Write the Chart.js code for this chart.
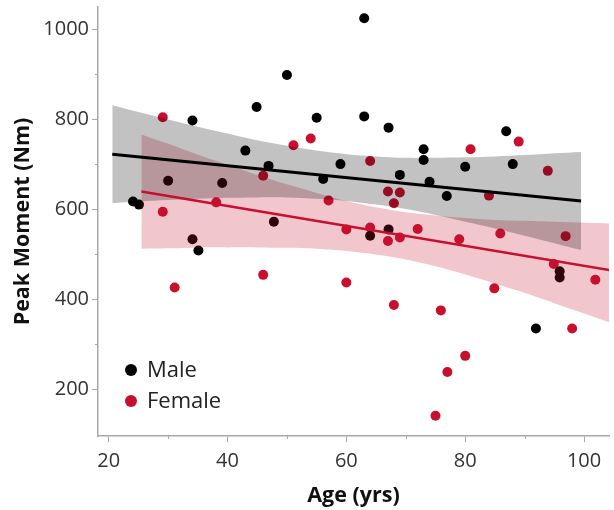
<!DOCTYPE html>
<html>
<head>
<meta charset="utf-8">
<title>Peak Moment vs Age</title>
<script src="https://cdn.jsdelivr.net/npm/chart.js@4.4.1/dist/chart.umd.min.js"></script>
<style>
  body { margin: 0; background: #fff; }
  canvas { display: block; }
</style>
</head>
<body>
<canvas id="myChart" width="614" height="510"></canvas>
<script>
// Measurements per subject
const maleAge = [24.1, 25.1, 30.0, 34.1, 34.1, 35.1, 39.1, 43.0, 44.9, 46.9, 47.8, 50.0, 55.0, 56.1, 59.0, 63.0, 63.0, 64.0, 67.1, 67.1, 69.0, 73.0, 73.0, 74.0, 76.9, 80.0, 86.9, 88.0, 91.9, 95.9, 95.9];
const maleMoment = [617, 610, 663, 797, 533, 508, 658, 730, 827, 696, 572, 898, 803, 667, 700, 1024, 806, 541, 781, 555, 676, 733, 709, 661, 629, 694, 773, 700, 335, 462, 448];

const femaleAge = [29.1, 29.1, 31.1, 38.1, 46.0, 46.0, 51.1, 54.0, 57.0, 60.0, 60.0, 64.0, 64.0, 67.0, 67.0, 68.0, 68.0, 69.0, 69.0, 72.0, 75.0, 75.9, 77.0, 79.0, 80.0, 80.9, 84.0, 84.9, 85.9, 89.0, 93.9, 94.9, 96.9, 98.0, 101.9];
const femaleMoment = [804, 594, 426, 615, 674, 454, 742, 757, 619, 555, 437, 707, 559, 639, 529, 613, 387, 637, 537, 556, 141, 375, 238, 533, 274, 733, 630, 424, 546, 750, 685, 478, 540, 335, 443];

// Regression lines
const maleFitAge = [20.6, 99.5];
const maleFit = [722, 618];
const femaleFitAge = [25.5, 105];
const femaleFit = [639, 463];

// Confidence bands
const maleBandAge = [20.6, 25, 30, 35, 40, 45, 50, 55, 60, 65, 70, 75, 80, 85, 90, 95, 99.5];
const maleUpper = [831, 816, 799, 783, 768, 753, 741, 730, 722, 717, 714, 714, 715, 717, 720, 724, 727];
const maleLower = [613, 617, 620, 623, 625, 626, 626, 623, 618, 610, 600, 587, 572, 557, 541, 524, 509];

const femaleBandAge = [25.5, 30, 35, 40, 45, 50, 55, 60, 65, 70, 75, 80, 85, 90, 95, 100, 105];
const femaleUpper = [766, 745, 721, 699, 676, 655, 636, 618, 604, 593, 586, 580, 576, 574, 572, 570, 568];
const femaleLower = [512, 513, 515, 515, 515, 514, 512, 507, 499, 488, 473, 455, 435, 414, 391, 368, 345];

// Axis ticks
const xMajor = [20, 40, 60, 80, 100];
const xMinor = [30, 50, 70, 90];
const yMajor = [200, 400, 600, 800, 1000];
const yMinor = [300, 500, 700, 900];

const RED = '#c8102e';
const AXIS = '#a8a8a8';
const FONT = 'Open Sans';

function pts(xs, ys) {
    return xs.map((x, i) => ({ x: x, y: ys[i] }));
}

function band(xs, ys, fill, color, order) {
    return {
        data: pts(xs, ys),
        showLine: true,
        borderWidth: 0,
        pointRadius: 0,
        tension: 0.3,
        fill: fill,
        backgroundColor: color,
        order: order
    };
}

// short minor ticks between the labelled ones
const minorTicks = {
    id: 'minorTicks',
    afterDraw(chart) {
        const { ctx, scales: { x, y } } = chart;
        ctx.save();
        ctx.strokeStyle = AXIS;
        ctx.lineWidth = 1;
        ctx.beginPath();
        xMinor.forEach((v) => {
            const px = Math.round(x.getPixelForValue(v)) + 0.5;
            ctx.moveTo(px, x.top);
            ctx.lineTo(px, x.top + 3);
        });
        yMinor.forEach((v) => {
            const py = Math.round(y.getPixelForValue(v)) + 0.5;
            ctx.moveTo(y.right, py);
            ctx.lineTo(y.right - 3, py);
        });
        ctx.stroke();
        ctx.restore();
    }
};

// legend drawn inside the plot, bottom left
const insideLegend = {
    id: 'insideLegend',
    afterDraw(chart) {
        const ctx = chart.ctx;
        const area = chart.chartArea;
        const items = chart.data.datasets.filter((d) => d.label);
        ctx.save();
        ctx.font = '22px "' + FONT + '"';
        ctx.textBaseline = 'middle';
        ctx.textAlign = 'left';
        items.forEach((d, i) => {
            const cy = area.bottom - 66 + i * 31;
            const cx = area.left + 33;
            ctx.fillStyle = d.backgroundColor;
            ctx.beginPath();
            ctx.arc(cx, cy, 6, 0, Math.PI * 2);
            ctx.fill();
            ctx.fillStyle = '#222';
            ctx.fillText(d.label, cx + 16, cy + 1);
        });
        ctx.restore();
    }
};

const ctx = document.getElementById('myChart');

new Chart(ctx, {
    type: 'scatter',
    data: {
        datasets: [
            { label: 'Male', data: pts(maleAge, maleMoment), backgroundColor: '#000', borderWidth: 0, pointRadius: 5, order: 3 },
            { label: 'Female', data: pts(femaleAge, femaleMoment), backgroundColor: RED, borderWidth: 0, pointRadius: 5, order: 3 },
            band(femaleBandAge, femaleUpper, '+1', 'rgba(200,16,46,0.24)', 2),
            band(femaleBandAge, femaleLower, false, 'rgba(0,0,0,0)', 2),
            band(maleBandAge, maleUpper, '+1', 'rgba(0,0,0,0.24)', 1),
            band(maleBandAge, maleLower, false, 'rgba(0,0,0,0)', 1),
            { data: pts(maleFitAge, maleFit), showLine: true, borderColor: '#000', borderWidth: 3, pointRadius: 0, order: 0 },
            { data: pts(femaleFitAge, femaleFit), showLine: true, borderColor: RED, borderWidth: 2.5, pointRadius: 0, order: 0 }
        ]
    },
    options: {
        responsive: false,
        animation: false,
        events: [],
        layout: { padding: { top: 7, right: 0, bottom: 0, left: 0 } },
        plugins: {
            legend: { display: false },
            tooltip: { enabled: false }
        },
        scales: {
            x: {
                type: 'linear',
                min: 18.2,
                max: 104.2,
                afterBuildTicks: (s) => { s.ticks = xMajor.map((v) => ({ value: v })); },
                afterFit: (s) => { s.height = 74; },
                grid: { drawOnChartArea: false, tickLength: 6, color: AXIS },
                border: { color: AXIS, width: 1.5 },
                ticks: {
                    color: '#333',
                    padding: 7,
                    font: { family: FONT, size: 20 },
                    callback: (v) => String(v)
                },
                title: {
                    display: true,
                    text: 'Age (yrs)',
                    color: '#111',
                    padding: { top: 0, bottom: 1 },
                    font: { family: FONT, size: 21.5, weight: 'bold' }
                }
            },
            y: {
                type: 'linear',
                min: 96,
                max: 1049,
                afterBuildTicks: (s) => { s.ticks = yMajor.map((v) => ({ value: v })); },
                afterFit: (s) => { s.width = 98; s.paddingTop = 0; s.paddingBottom = 0; },
                grid: { drawOnChartArea: false, tickLength: 6, color: AXIS },
                border: { color: AXIS, width: 1.5 },
                ticks: {
                    color: '#333',
                    padding: 3,
                    font: { family: FONT, size: 20 },
                    callback: (v) => String(v)
                },
                title: {
                    display: true,
                    text: 'Peak Moment (Nm)',
                    color: '#111',
                    padding: { top: 10, bottom: 0 },
                    font: { family: FONT, size: 21.5, weight: 'bold' }
                }
            }
        }
    },
    plugins: [minorTicks, insideLegend]
});
</script>
</body>
</html>
